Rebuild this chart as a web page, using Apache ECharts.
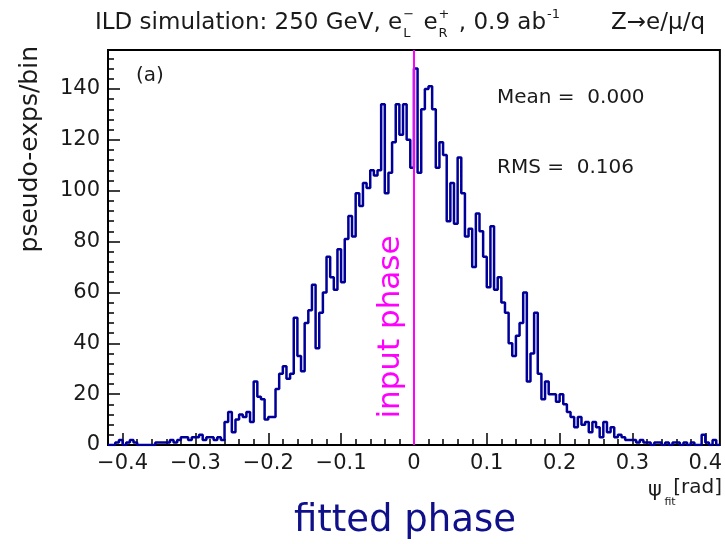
<!DOCTYPE html>
<html>
<head>
<meta charset="utf-8">
<script src="https://cdn.jsdelivr.net/npm/echarts@6/dist/echarts.min.js"></script>
<style>
html,body{margin:0;padding:0;background:#fff;}
#chart{width:725px;height:544px;}
</style>
</head>
<body>
<div id="chart"></div>
<script>
// Histogram definition
const xMin = -0.42;
const xMax = 0.42;
const binWidth = 0.005;

// Bin contents (pseudo-exps/bin), left half: bins from -0.42 to 0.0
const countsLeft = [
  0,0,1,2,0,1,2,1,0,0,0,0,0,1,1,1,1,2,1,2,3,3,2,3,3,4,2,3,3,2,3,2,
  9,13,5,10,12,11,13,9,25,19,18,10,11,11,22,28,
  31,26,28,50,35,29,48,53,63,38,52,60,74,66,61,77,
  64,81,90,82,99,94,103,101,108,106,108,134,99,107,119,134,
  122,134,120,109
];
// right half: bins from 0.0 to 0.42
const countsRight = [
  148,107,132,140,141,132,109,119,114,88,103,87,113,99,82,85,
  70,91,84,74,62,86,61,66,56,52,40,35,43,48,60,25,
  36,52,28,18,25,20,20,17,20,16,13,11,7,11,8,9,
  5,9,7,3,9,5,7,3,4,3,2,2,2,1,2,1,
  1,0,1,1,0,1,0,1,1,0,1,0,1,0,0,4,
  1,0,2,0
];

// Axis ticks and labels
const xTickValues = [-0.4,-0.3,-0.2,-0.1,0,0.1,0.2,0.3,0.4];
const xTickLabels = ['\u22120.4','\u22120.3','\u22120.2','\u22120.1','0','0.1','0.2','0.3','0.4'];
const xMinorValues = [-0.4,-0.38,-0.36,-0.34,-0.32,-0.3,-0.28,-0.26,-0.24,-0.22,-0.2,-0.18,-0.16,-0.14,-0.12,-0.1,-0.08,-0.06,-0.04,-0.02,0,0.02,0.04,0.06,0.08,0.1,0.12,0.14,0.16,0.18,0.2,0.22,0.24,0.26,0.28,0.3,0.32,0.34,0.36,0.38,0.4];
const yMax = 155.3;
const yTickValues = [0,20,40,60,80,100,120,140];
const yMinorValues = [4,8,12,16,24,28,32,36,44,48,52,56,64,68,72,76,84,88,92,96,104,108,112,116,124,128,132,136,144,148,152];

const inputPhase = 0;

const counts = countsLeft.concat(countsRight);
const stepData = counts.map((c, i) => [xMin + i * binWidth, c]);
stepData.push([xMin + counts.length * binWidth, counts[counts.length - 1]]);

const FONT = 'DejaVu Sans';
const TXT = '#1a1a1a';
function f(px) { return px + 'px "' + FONT + '"'; }

// Title layout (text pieces with stacked sub/superscripts)
const ctx = document.createElement('canvas').getContext('2d');
function tw(text, px) { ctx.font = f(px); return ctx.measureText(text).width; }
const T = 23, S = 13, TY = 23;
const titleParts = [];
let cx = 95;
function main(t) { titleParts.push({type: 'text', x: cx, y: TY, style: {text: t, font: f(T), fill: TXT, align: 'left', verticalAlign: 'middle'}}); cx += tw(t, T); }
function supsub(sup, sub) {
  titleParts.push({type: 'text', x: cx + 1, y: TY - 8, style: {text: sup, font: f(S), fill: TXT, align: 'left', verticalAlign: 'middle'}});
  titleParts.push({type: 'text', x: cx + 1, y: TY + 11, style: {text: sub, font: f(S), fill: TXT, align: 'left', verticalAlign: 'middle'}});
  cx += Math.max(tw(sup, S), tw(sub, S)) + 3;
}
function sup(t) { titleParts.push({type: 'text', x: cx + 1, y: TY - 8, style: {text: t, font: f(S), fill: TXT, align: 'left', verticalAlign: 'middle'}}); cx += tw(t, S) + 1; }
main('ILD simulation: 250 GeV, e');
supsub('\u2212', 'L');
main(' e');
supsub('+', 'R');
main(' , 0.9 ab');
sup('-1');
titleParts.push({type: 'text', x: 705, y: TY, style: {text: 'Z\u2192e/\u03bc/q', font: f(T), fill: TXT, align: 'right', verticalAlign: 'middle'}});

const gridRect = {left: 108, top: 50, width: 612, height: 395};

const chart = echarts.init(document.getElementById('chart'), null, {renderer: 'canvas'});
chart.setOption({
  animation: false,
  backgroundColor: '#fff',
  grid: [
    Object.assign({show: true, borderColor: '#000', borderWidth: 2, backgroundColor: 'transparent', containLabel: false}, gridRect),
    Object.assign({show: false, containLabel: false}, gridRect)
  ],
  xAxis: [
    {
      type: 'value', gridIndex: 0, min: xMin, max: xMax, position: 'bottom',
      axisLine: {show: false, onZero: false},
      splitLine: {show: false},
      axisTick: {show: true, inside: true, length: 12, customValues: xTickValues, lineStyle: {color: '#000', width: 1.5}},
      axisLabel: {
        show: true, customValues: xTickValues, margin: 8,
        fontFamily: FONT, fontSize: 21, color: TXT,
        formatter: function (v) {
          const k = xTickValues.findIndex(t => Math.abs(t - v) < 1e-6);
          return k >= 0 ? xTickLabels[k] : '';
        }
      }
    },
    {
      type: 'value', gridIndex: 1, min: xMin, max: xMax, position: 'bottom',
      axisLine: {show: false, onZero: false}, splitLine: {show: false}, axisLabel: {show: false},
      axisTick: {show: true, inside: true, length: 6, customValues: xMinorValues, lineStyle: {color: '#000', width: 1.5}}
    }
  ],
  yAxis: [
    {
      type: 'value', gridIndex: 0, min: 0, max: yMax, position: 'left',
      axisLine: {show: false, onZero: false},
      splitLine: {show: false},
      axisTick: {show: true, inside: true, length: 12, customValues: yTickValues, lineStyle: {color: '#000', width: 1.5}},
      axisLabel: {show: true, customValues: yTickValues, margin: 8, fontFamily: FONT, fontSize: 21, color: TXT}
    },
    {
      type: 'value', gridIndex: 1, min: 0, max: yMax, position: 'left',
      axisLine: {show: false, onZero: false}, splitLine: {show: false}, axisLabel: {show: false},
      axisTick: {show: true, inside: true, length: 6, customValues: yMinorValues, lineStyle: {color: '#000', width: 1.5}}
    }
  ],
  series: [
    {
      type: 'line', xAxisIndex: 0, yAxisIndex: 0,
      step: 'end',
      data: stepData,
      symbol: 'none',
      lineStyle: {color: '#000099', width: 2.5},
      z: 3,
      markLine: {
        silent: true,
        symbol: ['none', 'none'],
        label: {show: false},
        lineStyle: {color: '#ff00ff', width: 2, type: 'solid'},
        data: [{xAxis: inputPhase}]
      }
    }
  ],
  graphic: titleParts.concat([
    {type: 'text', x: 136, y: 76, style: {text: '(a)', font: f(20), fill: TXT, align: 'left', verticalAlign: 'middle'}},
    {type: 'text', x: 497, y: 98, style: {text: 'Mean =  0.000', font: f(20), fill: TXT, align: 'left', verticalAlign: 'middle'}},
    {type: 'text', x: 497, y: 168, style: {text: 'RMS =  0.106', font: f(20), fill: TXT, align: 'left', verticalAlign: 'middle'}},

    {type: 'text', x: 30, y: 46, rotation: Math.PI / 2,
     style: {text: 'pseudo-exps/bin', font: f(25), fill: TXT, align: 'right', verticalAlign: 'middle'}},

    {type: 'text', x: 391, y: 327, rotation: Math.PI / 2,
     style: {text: 'input phase', font: f(31), fill: '#ff00ff', align: 'center', verticalAlign: 'middle'}},

    {type: 'text', x: 655, y: 491, style: {text: '\u03c8', font: f(21), fill: TXT, align: 'center', verticalAlign: 'middle'}},
    {type: 'text', x: 670, y: 502, style: {text: 'fit', font: f(11), fill: TXT, align: 'center', verticalAlign: 'middle'}},
    {type: 'text', x: 722, y: 488, style: {text: '[rad]', font: f(20), fill: TXT, align: 'right', verticalAlign: 'middle'}},

    {type: 'text', x: 405, y: 521, style: {text: 'fitted phase', font: f(37), fill: '#10108a', align: 'center', verticalAlign: 'middle'}}
  ])
});
</script>
</body>
</html>
